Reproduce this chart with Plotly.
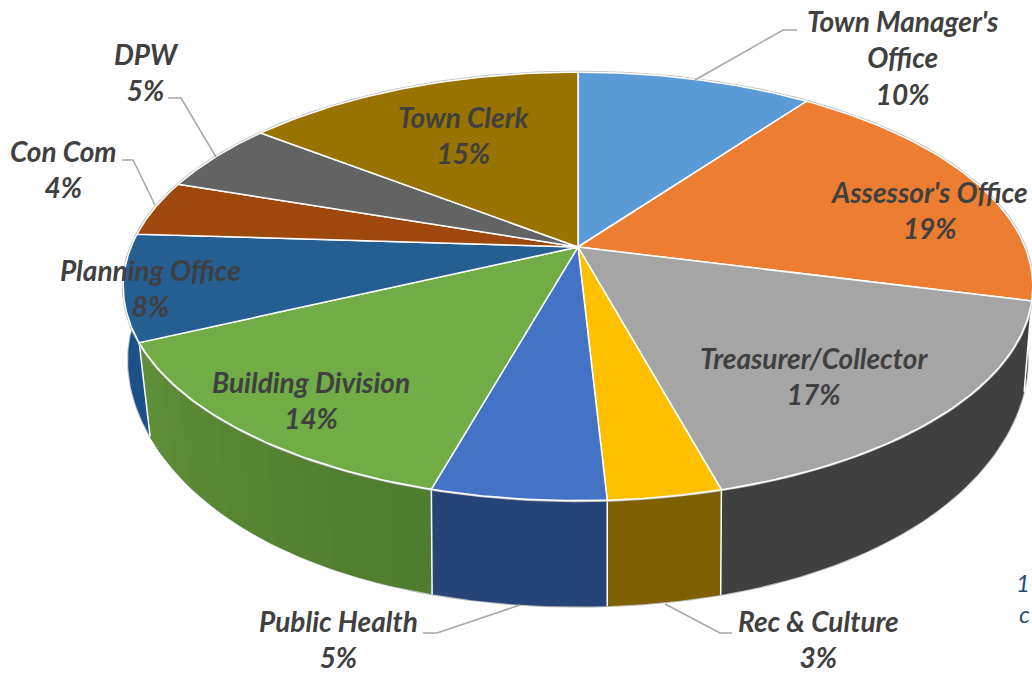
import numpy as np
import plotly.graph_objects as go

departments = ["Town Manager's<br>Office", "Assessor's Office", "Treasurer/Collector", "Rec & Culture",
               "Public Health", "Building Division", "Planning Office", "Con Com", "DPW", "Town Clerk"]
# shares, the printed labels are rounded
shares = [10.0, 19.0, 16.75, 3.4, 5.2, 13.65, 8.0, 4.2, 5.3, 14.5]
pct_labels = ["10%", "19%", "17%", "3%", "5%", "14%", "8%", "4%", "5%", "15%"]
top_colors = ["#5B9BD5", "#ED7D31", "#A5A5A5", "#FFC000", "#4472C4",
              "#70AD47", "#255E91", "#9E480E", "#636363", "#997300"]
# walls fade a little from one end of the slice to the other
wall_from = ["#3C6F9F", "#404040", "#404040", "#7F6000", "#264478",
             "#4F7C2F", "#1B5088", "#7A3A0C", "#4A4A4A", "#725600"]
wall_to = ["#3C6F9F", "#404040", "#404040", "#7F6000", "#264478",
           "#5E8F38", "#1B5088", "#7A3A0C", "#4A4A4A", "#725600"]

# label centres in page pixels
label_x = [903, 929, 814, 818, 338, 311, 150, 63, 146, 464]
label_y = [57, 210, 376, 639, 639, 400, 288, 169, 72, 135]
leader_lines = [
    ([695, 783, 797], [80, 30, 30]),
    ([168, 181, 216], [98, 98, 157]),
    ([122, 133, 155], [160, 160, 205]),
    ([423, 437, 520], [633, 633, 605]),
    ([665, 720, 732], [604, 633, 633]),
]

# tilted disc: perspective squeeze k, bottom rim offset
cx, cy, a, b, k = 578, 247, 447, 207, 0.184
depth, inset = 86.5, 32


def rim(theta, bottom=False):
    X, Y = np.cos(theta), np.sin(theta)
    d = 1 + k * Y
    x, y = cx + a * X / d, cy - b * Y / d
    if bottom:
        x, y = x - inset * X ** 3 * np.maximum(-Y, 0) / d, y + depth / d
    return x, y


def mix(c1, c2, f):
    p = [int(c1[j:j + 2], 16) * (1 - f) + int(c2[j:j + 2], 16) * f for j in (1, 3, 5)]
    return 'rgb(%d,%d,%d)' % tuple(p)


def poly(fig, x, y, color, line_color=None, line_width=0):
    fig.add_trace(go.Scatter(x=x, y=y, mode='lines', fill='toself', fillcolor=color,
                             line=dict(color=line_color or color, width=line_width),
                             hoverinfo='skip', showlegend=False))


def line(fig, x, y, color, width):
    fig.add_trace(go.Scatter(x=x, y=y, mode='lines', line=dict(color=color, width=width),
                             hoverinfo='skip', showlegend=False))


cum = np.cumsum([0] + shares)
edges = np.pi / 2 - 2 * np.pi * cum / cum[-1]

fig = go.Figure()

# outline behind everything
all_t = np.linspace(0, 2 * np.pi, 300)
line(fig, *rim(all_t, bottom=True), '#BFBFBF', 2)

# side walls, far ones first
order = sorted(range(len(shares)), key=lambda i: np.sin((edges[i] + edges[i + 1]) / 2), reverse=True)
for i in order:
    steps = 12 if wall_from[i] != wall_to[i] else 1
    cuts = np.linspace(edges[i], edges[i + 1], steps + 1)
    for s in range(steps):
        # each step runs to the slice end so no seams show between steps
        t = np.linspace(cuts[s], edges[i + 1], 40)
        tx, ty = rim(t)
        bx, by = rim(t, bottom=True)
        col = mix(wall_from[i], wall_to[i], s / max(steps - 1, 1))
        poly(fig, np.r_[tx, bx[::-1]], np.r_[ty, by[::-1]], col)

# white seams between walls on the front
for e in edges:
    if np.sin(e) < -k:
        tx, ty = rim(e)
        bx, by = rim(e, bottom=True)
        line(fig, [tx, bx], [ty, by], 'white', 1.5)

line(fig, *rim(all_t), '#BFBFBF', 3)

# top faces
for i in range(len(shares)):
    tx, ty = rim(np.linspace(edges[i], edges[i + 1], 60))
    poly(fig, np.r_[cx, tx, cx], np.r_[cy, ty, cy], top_colors[i], 'white', 1.5)

for lx, ly in leader_lines:
    line(fig, lx, ly, '#A6A6A6', 1.5)

for name, pct, x, y in zip(departments, pct_labels, label_x, label_y):
    fig.add_annotation(x=x, y=y, text=f"{name}<br>{pct}", showarrow=False, align='center',
                       xanchor='center', yanchor='middle',
                       font=dict(family='Lato', size=28, color='#404040', weight='bold', style='italic'))

# stray text at the right edge of the source picture
fig.add_annotation(x=1032, y=582, text="1", showarrow=False, xanchor='right', yanchor='middle',
                   font=dict(family='Lato', size=24, color='#1F4E79', style='italic'))
fig.add_annotation(x=1032, y=613, text="c", showarrow=False, xanchor='right', yanchor='middle',
                   font=dict(family='Lato', size=24, color='#1F4E79', style='italic'))

fig.update_xaxes(range=[0, 1032], visible=False, fixedrange=True)
fig.update_yaxes(range=[673, 0], visible=False, fixedrange=True)
fig.update_layout(width=1032, height=673, margin=dict(l=0, r=0, t=0, b=0),
                  plot_bgcolor='white', paper_bgcolor='white', showlegend=False)

fig.write_html("out.html", config={'displayModeBar': False},
               post_script="document.body.style.margin='0';document.body.style.overflow='hidden';")
